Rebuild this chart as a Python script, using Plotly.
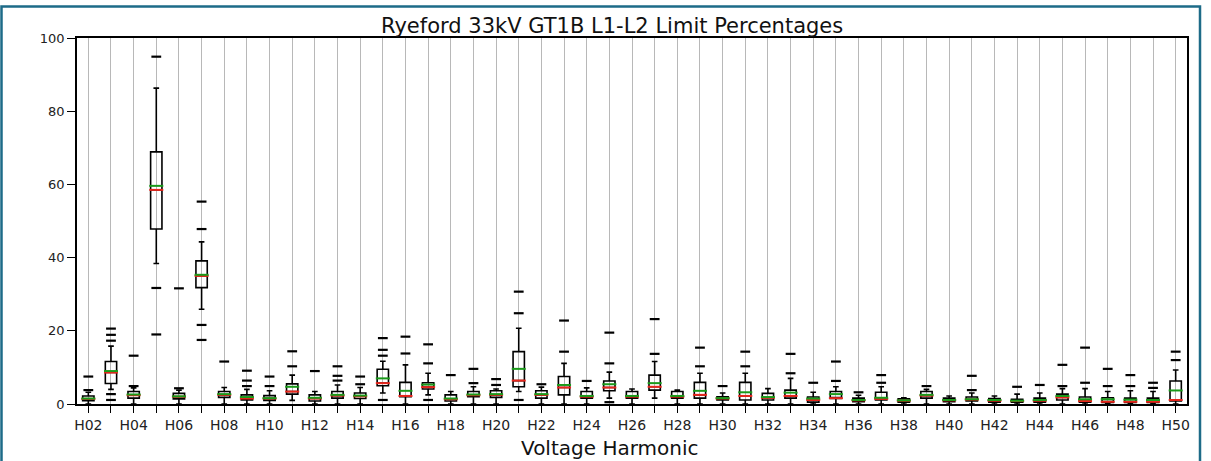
import plotly.graph_objects as go

harmonics = ["H%02d" % h for h in range(2, 51)]

q1 = [0.9, 5.6, 1.6, 47.8, 1.4, 31.8, 1.8, 1.1, 1.0, 2.7,
      0.8, 1.6, 1.5, 5.0, 2.0, 4.1, 0.8, 2.0, 1.8, 4.7,
      1.6, 2.5, 1.6, 3.6, 1.6, 3.8, 1.6, 1.6, 1.1, 1.1,
      1.1, 1.6, 0.5, 1.5, 0.6, 1.1, 0.5, 1.6, 0.6, 0.8,
      0.5, 0.5, 0.5, 1.1, 0.5, 0.4, 0.4, 0.4, 0.8]
median = [1.4, 8.6, 2.4, 58.5, 2.0, 35.0, 2.5, 1.5, 1.5, 3.4,
          1.5, 2.3, 2.1, 5.7, 2.2, 4.6, 1.3, 2.4, 2.5, 6.4,
          2.5, 4.5, 2.0, 4.5, 2.0, 4.7, 2.0, 2.5, 1.5, 2.2,
          1.7, 2.2, 1.1, 1.6, 1.0, 1.4, 0.9, 2.3, 1.0, 1.2,
          0.9, 0.8, 0.9, 1.8, 0.8, 0.6, 0.6, 0.6, 1.1]
q3 = [2.2, 11.6, 3.4, 68.9, 2.9, 39.1, 3.4, 2.5, 2.3, 5.5,
      2.5, 3.4, 3.0, 9.5, 5.9, 5.8, 2.5, 3.4, 3.6, 14.3,
      3.6, 7.5, 3.4, 6.3, 3.4, 7.9, 3.4, 5.9, 2.0, 5.9,
      2.9, 3.8, 1.9, 3.4, 1.6, 3.2, 1.4, 3.4, 1.6, 1.9,
      1.5, 1.3, 1.6, 2.7, 1.9, 1.7, 1.6, 1.6, 6.3]
whisker_low = [0, 4.0, 0, 38.4, 0, 25.9, 0, 0, 0, 1.0,
               0, 0, 0, 3.0, 0, 2.5, 0, 0, 0, 3.4,
               0, 0, 0, 1.6, 0, 1.6, 0, 0, 0, 0,
               0, 0, 0, 0, 0, 0, 0, 0, 0, 0,
               0, 0, 0, 0, 0, 0, 0, 0, 0]
whisker_high = [3.2, 15.8, 4.4, 86.3, 3.8, 44.3, 4.5, 4.0, 3.6, 7.9,
                3.4, 5.2, 4.5, 11.7, 10.7, 8.4, 3.4, 4.7, 4.1, 20.7,
                4.6, 11.1, 4.4, 8.7, 4.1, 11.6, 3.8, 8.4, 3.0, 8.4,
                4.2, 7.0, 3.2, 4.7, 2.4, 4.7, 1.7, 4.0, 2.2, 3.0,
                2.2, 2.7, 3.0, 4.2, 4.2, 3.4, 3.6, 3.4, 9.3]
mean = [1.5, 9.0, 2.6, 59.6, 2.1, 35.3, 2.7, 1.9, 1.6, 4.7,
        1.7, 2.5, 2.3, 7.0, 3.6, 5.3, 1.5, 2.6, 2.7, 9.6,
        2.7, 5.2, 2.2, 5.4, 2.2, 5.7, 2.2, 3.6, 1.6, 3.2,
        1.9, 3.1, 1.5, 2.7, 1.1, 1.7, 1.0, 2.5, 1.1, 1.3,
        1.1, 0.9, 1.1, 2.2, 1.3, 1.3, 1.2, 1.1, 3.7]
outliers = [[3.8, 7.5], [2.7, 1.1, 17.3, 18.9, 20.6], [4.9, 13.2], [31.7, 19.0, 94.9],
            [4.3, 31.6], [21.6, 17.5, 47.8, 55.3], [11.6], [4.9, 6.4, 9.1], [4.9, 7.5],
            [10.3, 14.4], [9.0], [6.4, 7.7, 10.3], [5.4, 7.5], [1.1, 13.2, 14.8, 18.0],
            [13.8, 18.4], [1.1, 11.1, 16.3], [7.9], [5.7, 9.6], [5.2, 6.8],
            [1.1, 24.8, 30.7], [5.4], [14.3, 22.8], [6.3], [0.5, 11.1, 19.5], [],
            [13.7, 23.2], [], [10.3, 15.4], [4.9], [10.3, 14.3], [], [8.4, 13.7],
            [5.8], [6.3, 11.6], [3.2], [5.8, 7.9], [], [4.9], [], [3.8, 7.7], [],
            [4.7], [5.2], [4.9, 10.7], [5.8, 15.4], [4.9, 9.6], [4.9, 7.9],
            [4.4, 5.8], [12.0, 14.3]]

tick_text = [h if i % 2 == 0 else "" for i, h in enumerate(harmonics)]

fig = go.Figure()

fig.add_trace(go.Box(
    x=harmonics, q1=q1, median=median, q3=q3,
    lowerfence=whisker_low, upperfence=whisker_high,
    width=0.5, whiskerwidth=0.5, boxpoints=False,
    line=dict(color="black", width=1.6),
    fillcolor="rgba(0,0,0,0)", showlegend=False,
))

out_x, out_y = [], []
for h, vals in zip(harmonics, outliers):
    for v in vals:
        out_x.append(h)
        out_y.append(v)

fig.add_trace(go.Scatter(
    x=out_x, y=out_y, mode="markers", showlegend=False,
    marker=dict(symbol="line-ew", size=7, line=dict(width=2.2, color="black")),
))
fig.add_trace(go.Scatter(
    x=harmonics, y=median, mode="markers", showlegend=False,
    marker=dict(symbol="line-ew", size=10, line=dict(width=2, color="#e8261c")),
))
fig.add_trace(go.Scatter(
    x=harmonics, y=mean, mode="markers", showlegend=False,
    marker=dict(symbol="line-ew", size=10, line=dict(width=2, color="#1a9a1a")),
))

L, R, T, B = 77, 24, 38, 57
W, H = 1211, 461
pw, ph = W - L - R, H - T - B

def px_x(p):
    return (p - L) / pw

def px_y(p):
    return (H - B - p) / ph

fig.update_layout(
    width=W, height=H,
    margin=dict(l=L, r=R, t=T, b=B),
    paper_bgcolor="white", plot_bgcolor="white",
    font=dict(family="DejaVu Sans", color="black"),
    annotations=[
        dict(text="Ryeford 33kV GT1B L1-L2 Limit Percentages", xref="paper", yref="paper",
             x=px_x(612), y=px_y(26), xanchor="center", yanchor="middle",
             showarrow=False, font=dict(size=21, color="#111")),
        dict(text="Voltage Harmonic", xref="paper", yref="paper",
             x=px_x(610), y=px_y(448), xanchor="center", yanchor="middle",
             showarrow=False, font=dict(size=20, color="#111")),
    ],
    shapes=[
        dict(type="rect", xref="paper", yref="paper",
             x0=px_x(1.5), x1=px_x(1200), y0=px_y(475), y1=px_y(6.5),
             line=dict(color="#1d6b88", width=2.5), layer="above"),
    ],
)

fig.update_xaxes(
    type="category", range=[-0.5, len(harmonics) - 0.5],
    tickmode="array", tickvals=harmonics, ticktext=tick_text,
    ticks="outside", ticklen=7, tickwidth=1.3, tickcolor="black",
    tickfont=dict(size=14, color="#222"),
    showgrid=True, gridcolor="#b8b8b8", gridwidth=1.2,
    showline=True, linecolor="black", linewidth=1.6, mirror=True,
    zeroline=False,
)
fig.update_yaxes(
    range=[0, 100], tickvals=[0, 20, 40, 60, 80, 100],
    ticks="outside", ticklen=8, tickwidth=1.3, tickcolor="black",
    tickfont=dict(size=13, color="#222"),
    showgrid=False,
    showline=True, linecolor="black", linewidth=1.6, mirror=True,
    zeroline=False,
)

fig.write_html("out.html", config={"displayModeBar": False},
               post_script="document.body.style.margin='0';")
